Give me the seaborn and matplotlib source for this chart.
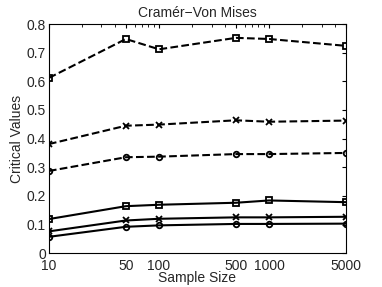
import pandas as pd
import matplotlib
matplotlib.use("Agg")
import matplotlib.pyplot as plt
import seaborn as sns

# sample sizes and critical values
sizes = [10, 50, 100, 500, 1000, 5000]
dash_square = [0.612, 0.748, 0.712, 0.752, 0.748, 0.724]
dash_cross = [0.381, 0.445, 0.449, 0.464, 0.459, 0.463]
dash_circle = [0.287, 0.335, 0.337, 0.346, 0.346, 0.350]
solid_square = [0.119, 0.164, 0.169, 0.176, 0.184, 0.178]
solid_cross = [0.076, 0.114, 0.120, 0.125, 0.125, 0.127]
solid_circle = [0.057, 0.092, 0.097, 0.102, 0.102, 0.103]

series = [
    (dash_square, "--", "s"),
    (dash_cross, "--", "x"),
    (dash_circle, "--", "o"),
    (solid_square, "-", "s"),
    (solid_cross, "-", "x"),
    (solid_circle, "-", "o"),
]

sns.set_style("white")
plt.rcParams["font.family"] = ["Liberation Sans", "DejaVu Sans"]

fig = plt.figure(figsize=(3.82, 2.87), dpi=100)
ax1 = fig.add_axes([0.128, 0.118, 0.778, 0.798])

for vals, ls, mk in series:
    df = pd.DataFrame({"n": sizes, "v": vals})
    sns.lineplot(data=df, x="n", y="v", ax=ax1, color="black", linestyle=ls,
                 linewidth=1.5, marker=mk, markersize=4, markerfacecolor="none",
                 markeredgecolor="black", markeredgewidth=1.3)

ax1.set_xscale("log")
ax1.set_xlim(10, 5000)
ax1.set_ylim(0, 0.8)
ax1.set_xticks(sizes)
ax1.set_xticklabels([str(s) for s in sizes])
ax1.set_yticks([0, 0.1, 0.2, 0.3, 0.4, 0.5, 0.6, 0.7, 0.8])
ax1.set_yticklabels(["0", "0.1", "0.2", "0.3", "0.4", "0.5", "0.6", "0.7", "0.8"])
ax1.tick_params(which="both", direction="in", top=True, right=True, labelsize=10,
                color="black")
ax1.tick_params(axis="x", pad=4)
ax1.tick_params(axis="y", pad=2)
ax1.tick_params(which="major", length=3)
ax1.tick_params(which="minor", length=2)
for s in ax1.spines.values():
    s.set_color("black")
    s.set_linewidth(0.8)

ax1.set_xlabel("Sample Size", fontsize=10, labelpad=-1)
ax1.set_ylabel("Critical Values", fontsize=10, labelpad=2)
ax1.set_title("Cramér\u2212Von Mises", fontsize=10, pad=5)

fig.savefig("out.png", dpi=100)
